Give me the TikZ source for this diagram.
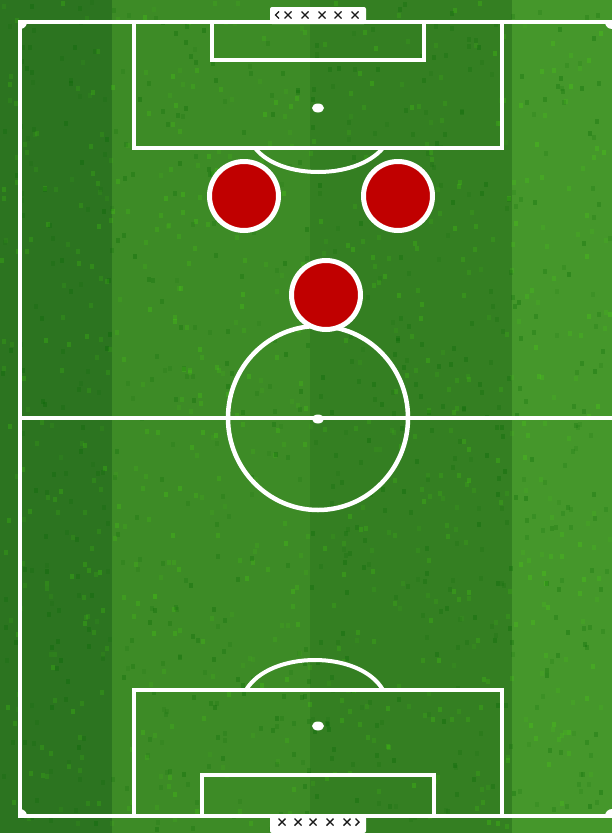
\documentclass[tikz,border=0pt]{standalone}
\begin{document}
\begin{tikzpicture}[x=1pt,y=-1pt,
  line/.style={draw=white,line width=4pt},
  player/.style={circle,draw=white,line width=5pt,fill=redp,minimum size=69pt,inner sep=0pt},
  spot/.style={fill=white,draw=none},
  netx/.style={draw=black!90,line width=1.4pt}]
\definecolor{redp}{HTML}{C00000}
\definecolor{gA}{HTML}{2C7420}
\definecolor{gB}{HTML}{3D8B26}
\definecolor{gC}{HTML}{347F22}
\definecolor{gD}{HTML}{45972B}
\useasboundingbox (0,0) rectangle (612,833);
% grass stripes
\fill[gA] (0,0) rectangle (112,833);
\fill[gB] (112,0) rectangle (310,833);
\fill[gC] (310,0) rectangle (512,833);
\fill[gD] (512,0) rectangle (612,833);
% grass texture
\pgfmathsetseed{7}
\foreach \i in {1,...,1400}{
  \pgfmathsetmacro{\rx}{random(0,608)}
  \pgfmathsetmacro{\ry}{random(0,828)}
  \pgfmathsetmacro{\ro}{random(10,30)/100}
  \ifodd\i
    \fill[black!60!green,opacity=\ro] (\rx,\ry) rectangle ++(4,5);
  \else
    \fill[green!70!yellow,opacity=\ro*0.6] (\rx,\ry) rectangle ++(4,5);
  \fi}
% goals
\fill[white,rounded corners=2pt] (270,7) rectangle (366,24);
\fill[white,rounded corners=2pt] (270,814) rectangle (366,833);
\foreach \x in {288,305,322,338,355}{
  \draw[netx] (\x-3.5,11.5) -- (\x+3.5,18.5) (\x-3.5,18.5) -- (\x+3.5,11.5);}
\draw[netx] (279,11.5) -- (275.5,15) -- (279,18.5);
\foreach \x in {282,298,313,330,347}{
  \draw[netx] (\x-3.5,818.5) -- (\x+3.5,825.5) (\x-3.5,825.5) -- (\x+3.5,818.5);}
\draw[netx] (355.5,818.5) -- (359,822) -- (355.5,825.5);
% outer lines
\draw[line] (614,22) -- (20,22) -- (20,816) -- (614,816);
\draw[line] (20,418) -- (614,418);
% corner marks
\fill[white] (20,22) -- (27,22) arc[start angle=0,end angle=-90,radius=7pt] -- cycle;
\fill[white] (20,816) -- (27,816) arc[start angle=0,end angle=90,radius=7pt] -- cycle;
\fill[white] (612,816) -- (605,816) arc[start angle=180,end angle=90,radius=7pt] -- cycle;
\fill[white] (612,22) -- (605,22) arc[start angle=180,end angle=270,radius=7pt] -- cycle;
% top penalty area
\draw[line] (134,22) -- (134,148) -- (502,148) -- (502,22);
\draw[line] (212,22) -- (212,60) -- (424,60) -- (424,22);
\draw[line] (255,148) .. controls (280,180) and (356,180) .. (383,148);
\fill[spot] (318,108) ellipse[x radius=6pt,y radius=4.5pt];
% center
\draw[white,line width=4.5pt] (318,418) ellipse[x radius=90pt,y radius=92pt];
\fill[spot] (318,419) ellipse[x radius=6pt,y radius=4.5pt];
% bottom penalty area
\draw[line] (134,816) -- (134,690) -- (502,690) -- (502,816);
\draw[line] (202,816) -- (202,775) -- (434,775) -- (434,816);
\draw[line] (246,690) .. controls (270,650) and (360,650) .. (383,690);
\fill[spot] (318,726) ellipse[x radius=6pt,y radius=4.5pt];
% players
\node[player] (p1) at (244,196) {};
\node[player] (p2) at (398,196) {};
\node[player] (p3) at (326,295) {};
\end{tikzpicture}
\end{document}
